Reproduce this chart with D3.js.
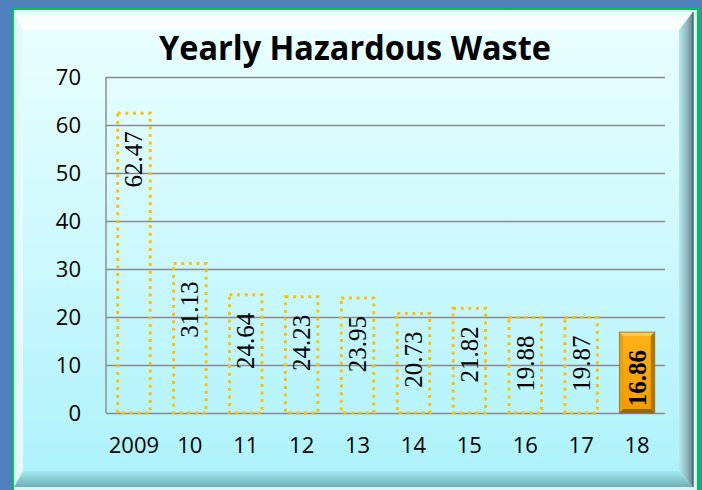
<!DOCTYPE html>
<html>
<head>
<meta charset="utf-8">
<script src="https://cdn.jsdelivr.net/npm/d3@7"></script>
<style>
html,body{margin:0;padding:0;background:#4F81BD;}
svg{display:block;}
</style>
</head>
<body>
<script>
const categories = ["2009","10","11","12","13","14","15","16","17","18"];
const values = [62.47,31.13,24.64,24.23,23.95,20.73,21.82,19.88,19.87,16.86];
const yTicks = [0,10,20,30,40,50,60,70];
const title = "Yearly Hazardous Waste";

const W = 702, H = 490;
const svg = d3.select("body").append("svg").attr("width", W).attr("height", H);
const defs = svg.append("defs");

function lin(id, x1,y1,x2,y2, stops){
  const g = defs.append("linearGradient").attr("id",id)
    .attr("x1",x1).attr("y1",y1).attr("x2",x2).attr("y2",y2);
  stops.forEach(s=>g.append("stop").attr("offset",s[0]).attr("stop-color",s[1]));
}
lin("face","0","0","0","1",[[0,"#EAFFFF"],[1,"#AFF2FB"]]);
lin("topB","0","0","0","1",[[0,"#F4FBFB"],[1,"#FFFFFF"]]);
lin("leftB","0","0","1","0",[[0,"#DDF3F4"],[1,"#E6FCFD"]]);
lin("rightB","0","0","1","0",[[0,"#B5E9EE"],[0.6,"#8FB6BC"],[1,"#5E7C82"]]);
lin("botB","0","0","0","1",[[0,"#A2E8F0"],[1,"#6FAFB8"]]);
lin("barFace","0","0","0","1",[[0,"#FFB21A"],[1,"#F29B00"]]);

// background frame
svg.append("rect").attr("x",0).attr("y",0).attr("width",W).attr("height",H).attr("fill","#4F81BD");
svg.append("rect").attr("x",12).attr("y",8).attr("width",688).attr("height",490).attr("fill","#00C05A");
svg.append("rect").attr("x",14).attr("y",10).attr("width",683).attr("height",485).attr("fill","#D6F6F8");

const P = {x0:14,y0:12,x1:693,y1:487}, F = {x0:23,y0:30,x1:679,y1:471};
const poly = (pts, fill) => svg.append("polygon").attr("points", pts.map(p=>p.join(",")).join(" ")).attr("fill",fill);
poly([[P.x0,P.y0],[P.x1,P.y0],[F.x1,F.y0],[F.x0,F.y0]],"url(#topB)");
poly([[P.x0,P.y0],[F.x0,F.y0],[F.x0,F.y1],[P.x0,P.y1]],"url(#leftB)");
poly([[P.x1,P.y0],[P.x1,P.y1],[F.x1,F.y1],[F.x1,F.y0]],"url(#rightB)");
poly([[P.x0,P.y1],[P.x1,P.y1],[F.x1,F.y1],[F.x0,F.y1]],"url(#botB)");
svg.append("rect").attr("x",F.x0).attr("y",F.y0).attr("width",F.x1-F.x0).attr("height",F.y1-F.y0).attr("fill","url(#face)");
svg.append("line").attr("x1",P.x1).attr("x2",P.x1).attr("y1",P.y0).attr("y2",P.y1).attr("stroke","#4F6C72").attr("stroke-width",1.5);

// title
svg.append("text").attr("x",355).attr("y",60).attr("text-anchor","middle")
  .attr("font-family","'Open Sans',sans-serif").attr("font-weight","bold").attr("font-size",34)
  .attr("textLength",392).attr("lengthAdjust","spacingAndGlyphs")
  .attr("fill","#000").text(title);

// scales
const plot = {left:106,right:665,top:77,bottom:413};
const x = d3.scaleBand().domain(categories).range([plot.left,plot.right]).paddingInner(0.42).paddingOuter(0.21);
const y = d3.scaleLinear().domain([0,70]).range([plot.bottom,plot.top]);

// y axis with gridlines
const yAxis = svg.append("g").attr("transform",`translate(${plot.left},0)`)
  .call(d3.axisLeft(y).tickValues(yTicks).tickSize(-(plot.right-plot.left)).tickPadding(25).tickFormat(d3.format("d")));
yAxis.select(".domain").remove();
yAxis.selectAll(".tick line").attr("stroke","#8A8A8A").attr("stroke-width",1.4);
yAxis.selectAll(".tick text").attr("font-family","'Open Sans',sans-serif").attr("font-size",22).attr("fill","#000").attr("dy","0.36em");
svg.append("line").attr("x1",plot.left).attr("x2",plot.left).attr("y1",plot.top).attr("y2",plot.bottom)
  .attr("stroke","#8A8A8A").attr("stroke-width",1.4);

// x axis
const xAxis = svg.append("g").attr("transform",`translate(0,${plot.bottom})`)
  .call(d3.axisBottom(x).tickSize(0));
xAxis.select(".domain").remove();
xAxis.selectAll(".tick text").attr("dy",null).attr("y",40)
  .attr("font-family","'Open Sans',sans-serif").attr("font-size",22).attr("fill","#000");

// bars
const data = categories.map((c,i)=>({c, v:values[i], last: i===categories.length-1}));
const bw = x.bandwidth();
data.forEach(d=>{
  const bx = x(d.c), by = y(d.v), bh = y(0)-y(d.v);
  if(!d.last){
    svg.append("rect").attr("x",bx).attr("y",by).attr("width",bw).attr("height",bh)
      .attr("fill","none").attr("stroke","#FFC000").attr("stroke-width",3).attr("stroke-dasharray","3,4.6");
  } else {
    const b = 4;
    const X0=bx-1.5, X1=bx+bw+1.5, Y0=by, Y1=y(0);
    svg.append("rect").attr("x",X0).attr("y",Y0).attr("width",X1-X0).attr("height",Y1-Y0).attr("fill","url(#barFace)");
    poly([[X0,Y0],[X1,Y0],[X1-b,Y0+b],[X0+b,Y0+b]],"#FFCB55");
    poly([[X0,Y0],[X0+b,Y0+b],[X0+b,Y1-b],[X0,Y1]],"#E8A010");
    poly([[X1,Y0],[X1,Y1],[X1-b,Y1-b],[X1-b,Y0+b]],"#B37700");
    poly([[X0,Y1],[X1,Y1],[X1-b,Y1-b],[X0+b,Y1-b]],"#9A6500");
    svg.append("rect").attr("x",X0).attr("y",Y0).attr("width",X1-X0).attr("height",Y1-Y0)
      .attr("fill","none").attr("stroke","#8E7030").attr("stroke-width",0.8);
  }
  // label
  const cx = bx + bw/2;
  const t = svg.append("text")
    .style("font-family","\"Liberation Serif\", Tinos, \"Times New Roman\", \"DejaVu Serif\", serif").attr("font-size",25)
    .attr("font-weight", d.last ? "bold" : "normal")
    .attr("fill","#000").attr("text-anchor","end").attr("dominant-baseline","central")
    .text(d.v.toFixed(2));
  const len = t.node().getComputedTextLength();
  let top = by + 18;
  const center = by + bh/2;
  if (top + len > y(0) - 4) top = center - len/2;
  t.attr("transform",`translate(${cx},${top}) rotate(-90)`);
});
</script>
</body>
</html>
